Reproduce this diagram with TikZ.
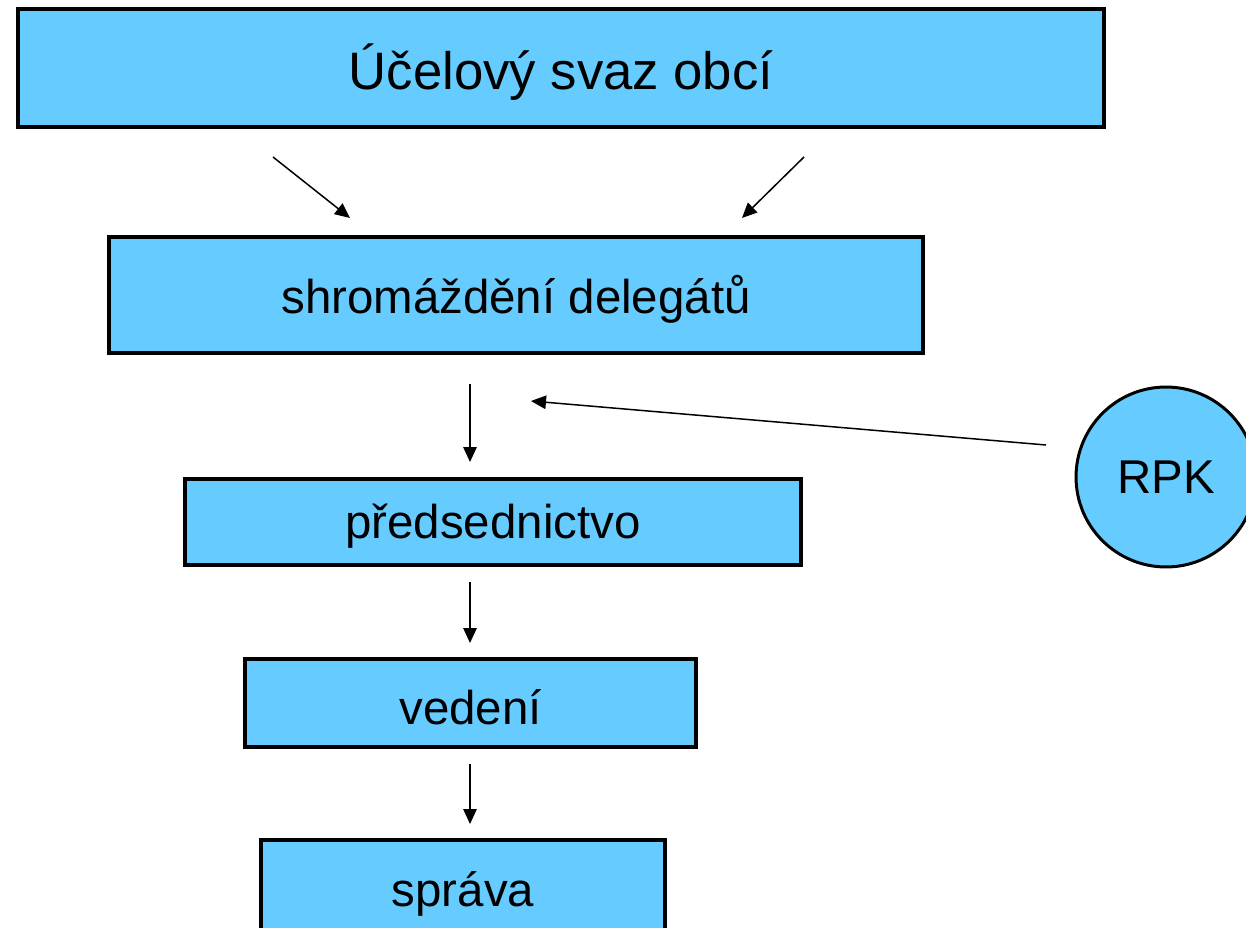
\documentclass[tikz,border=0pt]{standalone}
\usepackage{fontspec}
\setmainfont{Liberation Sans}
\usetikzlibrary{arrows.meta}

\newcommand{\lowered}[1]{\raisebox{-0.08cm}[\height][\depth]{#1}}

\tikzset{
  orgbox/.style={draw, line width=0.08cm, fill=skyblue, inner sep=0pt,
    font=\fontsize{27}{32}\selectfont},
  orgarrow/.style={line width=0.03cm, -{Triangle[length=0.3cm,width=0.27cm]}},
}
\definecolor{skyblue}{HTML}{66CCFF}

\begin{document}
\begin{tikzpicture}[x=0.02cm, y=-0.02cm]
      \useasboundingbox (0,0) rectangle (1246,928);

        % Boxes
        \node[orgbox, minimum width=21.72cm, minimum height=2.36cm,
          font=\fontsize{30}{36}\selectfont] (svaz) at (561,68) {\lowered{Účelový svaz obcí}};
        \node[orgbox, minimum width=16.28cm, minimum height=2.32cm] (shrom) at (516,295) {\lowered{shromáždění delegátů}};
        \node[orgbox, minimum width=12.32cm, minimum height=1.72cm] (pred) at (493,522) {\lowered{předsednictvo}};
        \node[orgbox, minimum width=9.02cm, minimum height=1.76cm] (ved) at (470.5,703) {\lowered{vedení}};
        \node[orgbox, minimum width=8.08cm, minimum height=2.0cm] (sprava) at (463,890) {\lowered{správa}};
        \node[orgbox, circle, line width=0.06cm, minimum size=3.6cm] (rpk) at (1166,477) {RPK};

        % Arrow ends
        \coordinate (l1) at (273,157);  \coordinate (l2) at (350,218);
        \coordinate (r1) at (804,157);  \coordinate (r2) at (742,218);
        \coordinate (s1) at (470,384);  \coordinate (s2) at (470,462);
        \coordinate (k1) at (1046,445); \coordinate (k2) at (531,401);
        \coordinate (p1) at (470,582);  \coordinate (p2) at (470,643);
        \coordinate (v1) at (470,764);  \coordinate (v2) at (470,824);

        \draw[orgarrow] (l1) -- (l2);
        \draw[orgarrow] (r1) -- (r2);
        \draw[orgarrow] (s1) -- (s2);
        \draw[orgarrow] (k1) -- (k2);
        \draw[orgarrow] (p1) -- (p2);
        \draw[orgarrow] (v1) -- (v2);
    \end{tikzpicture}
\end{document}
